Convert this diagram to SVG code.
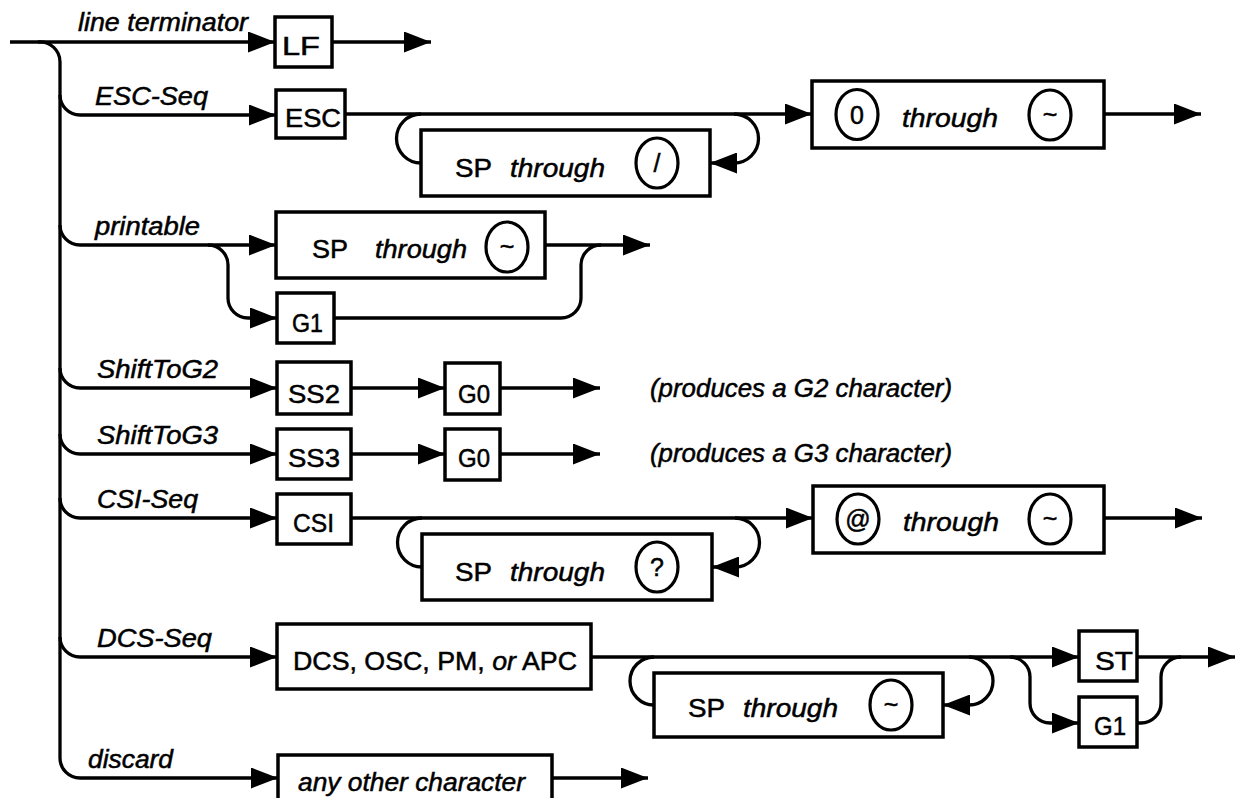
<svg xmlns="http://www.w3.org/2000/svg" width="1236" height="798" viewBox="0 0 1236 798">
<style>
.ln{fill:none;stroke:#000;stroke-width:3.3}
.bx{fill:#fff;stroke:#000;stroke-width:3.5}
.el{fill:none;stroke:#000;stroke-width:3.2}
.lb{font-family:"Liberation Sans",Arial,sans-serif;font-style:italic;font-size:25px;fill:#000;stroke:#000;stroke-width:0.5}
.tx{font-family:"Liberation Sans",Arial,sans-serif;font-size:26px;fill:#000;stroke:#000;stroke-width:0.5}
.it{font-family:"Liberation Sans",Arial,sans-serif;font-style:italic;font-size:26px;fill:#000;stroke:#000;stroke-width:0.5}
.sy{font-family:"Liberation Sans",Arial,sans-serif;font-size:25px;fill:#000;text-anchor:middle;stroke:#000;stroke-width:0.5}
</style>
<defs>
<marker id="ah" viewBox="0 0 27 21" refX="27" refY="10.5" markerWidth="27" markerHeight="21" markerUnits="userSpaceOnUse" orient="auto">
<path d="M0,0 L27,10.5 L0,21 z" fill="#000"/>
</marker>
</defs>
<rect width="1236" height="798" fill="#fff"/>

<g id="connectors">
<path class="ln" d="M10,42 L275,42" marker-end="url(#ah)"/>
<path class="ln" d="M38,42 A20 20 0 0 1 60,62 L60,758 A20 20 0 0 0 80,778 L278,778" marker-end="url(#ah)"/>
<path class="ln" d="M60,95 A20 20 0 0 0 80,115 L276,115" marker-end="url(#ah)"/>
<path class="ln" d="M60,225 A20 20 0 0 0 80,245 L276,245" marker-end="url(#ah)"/>
<path class="ln" d="M60,368 A20 20 0 0 0 80,388 L277,388" marker-end="url(#ah)"/>
<path class="ln" d="M60,434 A20 20 0 0 0 80,454 L277,454" marker-end="url(#ah)"/>
<path class="ln" d="M60,498 A20 20 0 0 0 80,518 L277,518" marker-end="url(#ah)"/>
<path class="ln" d="M60,637 A20 20 0 0 0 80,657 L277,657" marker-end="url(#ah)"/>
<path class="ln" d="M332,42 L431,42" marker-end="url(#ah)"/>
<path class="ln" d="M345,114 L812,114" marker-end="url(#ah)"/>
<path class="ln" d="M421,114 A24.5 24.5 0 0 0 421,163"/>
<path class="ln" d="M734,114 A24.5 24.5 0 0 1 734,163 L710,163" marker-end="url(#ah)"/>
<path class="ln" d="M1104,114 L1201,114" marker-end="url(#ah)"/>
<path class="ln" d="M208,245 A20 20 0 0 1 228,265 L228,298 A20 20 0 0 0 248,318 L277,318" marker-end="url(#ah)"/>
<path class="ln" d="M545,245 L650,245" marker-end="url(#ah)"/>
<path class="ln" d="M334,318 L561,318 A20 20 0 0 0 581,298 L581,265 A20 20 0 0 1 601,245"/>
<path class="ln" d="M351,388 L445,388" marker-end="url(#ah)"/>
<path class="ln" d="M500,388 L600,388" marker-end="url(#ah)"/>
<path class="ln" d="M351,454 L445,454" marker-end="url(#ah)"/>
<path class="ln" d="M500,454 L600,454" marker-end="url(#ah)"/>
<path class="ln" d="M351,518 L813,518" marker-end="url(#ah)"/>
<path class="ln" d="M422,518 A24.5 24.5 0 0 0 422,567"/>
<path class="ln" d="M735,518 A24.5 24.5 0 0 1 735,567 L712,567" marker-end="url(#ah)"/>
<path class="ln" d="M1104,518 L1202,518" marker-end="url(#ah)"/>
<path class="ln" d="M591,657 L1079,657" marker-end="url(#ah)"/>
<path class="ln" d="M654,657 A24 24 0 0 0 654,705"/>
<path class="ln" d="M969,657 A24 24 0 0 1 969,705 L943,705" marker-end="url(#ah)"/>
<path class="ln" d="M1010,657 A20 20 0 0 1 1030,677 L1030,703 A20 20 0 0 0 1050,723 L1079,723" marker-end="url(#ah)"/>
<path class="ln" d="M1137,723 L1141,723 A20 20 0 0 0 1161,703 L1161,677 A20 20 0 0 1 1181,657"/>
<path class="ln" d="M1137,657 L1235,657" marker-end="url(#ah)"/>
<path class="ln" d="M552,778 L648,778" marker-end="url(#ah)"/>
</g>

<g id="labels">
<text class="lb" x="78" y="31" textLength="170" lengthAdjust="spacingAndGlyphs">line terminator</text>
<text class="lb" x="95" y="105" textLength="113" lengthAdjust="spacingAndGlyphs">ESC-Seq</text>
<text class="lb" x="95" y="235" textLength="105" lengthAdjust="spacingAndGlyphs">printable</text>
<text class="lb" x="97" y="378" textLength="121" lengthAdjust="spacingAndGlyphs">ShiftToG2</text>
<text class="lb" x="97" y="444" textLength="121" lengthAdjust="spacingAndGlyphs">ShiftToG3</text>
<text class="lb" x="97" y="508" textLength="101" lengthAdjust="spacingAndGlyphs">CSI-Seq</text>
<text class="lb" x="97" y="647" textLength="115" lengthAdjust="spacingAndGlyphs">DCS-Seq</text>
<text class="lb" x="88" y="768" textLength="85" lengthAdjust="spacingAndGlyphs">discard</text>
<text class="lb" x="650" y="397" textLength="302" lengthAdjust="spacingAndGlyphs">(produces a G2 character)</text>
<text class="lb" x="650" y="462" textLength="302" lengthAdjust="spacingAndGlyphs">(produces a G3 character)</text>
</g>

<g id="node-LF">
<rect class="bx" x="275" y="17" width="57" height="50"/>
<text class="tx" x="282" y="55" textLength="38" lengthAdjust="spacingAndGlyphs">LF</text>
</g>
<g id="node-ESC">
<rect class="bx" x="276" y="90" width="69" height="48"/>
<text class="tx" x="285" y="127" textLength="56" lengthAdjust="spacingAndGlyphs">ESC</text>
</g>
<g id="node-esc-loop">
<rect class="bx" x="421" y="130" width="289" height="66"/>
<text class="tx" x="455" y="177" textLength="37" lengthAdjust="spacingAndGlyphs">SP</text>
<text class="it" x="510" y="177" textLength="95" lengthAdjust="spacingAndGlyphs">through</text>
<ellipse class="el" cx="657" cy="163" rx="21" ry="25"/>
<text class="sy" x="657" y="172">/</text>
</g>
<g id="node-esc-final">
<rect class="bx" x="812" y="81" width="292" height="67"/>
<ellipse class="el" cx="857" cy="114.5" rx="21" ry="25"/>
<text class="sy" x="857" y="123.5">0</text>
<text class="it" x="902" y="127" textLength="96" lengthAdjust="spacingAndGlyphs">through</text>
<ellipse class="el" cx="1050" cy="115" rx="21" ry="25"/>
<text class="sy" x="1050" y="123">~</text>
</g>
<g id="node-printable">
<rect class="bx" x="276" y="212" width="269" height="66"/>
<text class="tx" x="312" y="258" textLength="36" lengthAdjust="spacingAndGlyphs">SP</text>
<text class="it" x="375" y="258" textLength="92" lengthAdjust="spacingAndGlyphs">through</text>
<ellipse class="el" cx="507" cy="247" rx="21" ry="25"/>
<text class="sy" x="507" y="255">~</text>
</g>
<g id="node-G1a">
<rect class="bx" x="277" y="293" width="57" height="50"/>
<text class="tx" x="292" y="332" textLength="31" lengthAdjust="spacingAndGlyphs">G1</text>
</g>
<g id="node-SS2">
<rect class="bx" x="277" y="362" width="74" height="52"/>
<text class="tx" x="288" y="403" textLength="52" lengthAdjust="spacingAndGlyphs">SS2</text>
</g>
<g id="node-G0a">
<rect class="bx" x="445" y="363" width="55" height="51"/>
<text class="tx" x="458" y="403" textLength="32" lengthAdjust="spacingAndGlyphs">G0</text>
</g>
<g id="node-SS3">
<rect class="bx" x="277" y="429" width="74" height="50"/>
<text class="tx" x="288" y="467" textLength="52" lengthAdjust="spacingAndGlyphs">SS3</text>
</g>
<g id="node-G0b">
<rect class="bx" x="445" y="429" width="55" height="51"/>
<text class="tx" x="458" y="467" textLength="32" lengthAdjust="spacingAndGlyphs">G0</text>
</g>
<g id="node-CSI">
<rect class="bx" x="277" y="494" width="74" height="50"/>
<text class="tx" x="293" y="532" textLength="41" lengthAdjust="spacingAndGlyphs">CSI</text>
</g>
<g id="node-csi-loop">
<rect class="bx" x="422" y="534" width="290" height="66"/>
<text class="tx" x="455" y="581" textLength="37" lengthAdjust="spacingAndGlyphs">SP</text>
<text class="it" x="510" y="581" textLength="95" lengthAdjust="spacingAndGlyphs">through</text>
<ellipse class="el" cx="657" cy="567" rx="21" ry="25"/>
<text class="sy" x="657" y="576">?</text>
</g>
<g id="node-csi-final">
<rect class="bx" x="813" y="486" width="291" height="67"/>
<ellipse class="el" cx="858" cy="519" rx="21" ry="25"/>
<text class="sy" x="858" y="528">@</text>
<text class="it" x="903" y="531" textLength="96" lengthAdjust="spacingAndGlyphs">through</text>
<ellipse class="el" cx="1050" cy="519" rx="21" ry="25"/>
<text class="sy" x="1050" y="527">~</text>
</g>
<g id="node-DCS">
<rect class="bx" x="277" y="624" width="314" height="65"/>
<text class="tx" x="293" y="670" textLength="284" lengthAdjust="spacingAndGlyphs">DCS, OSC, PM, <tspan font-style="italic">or</tspan> APC</text>
</g>
<g id="node-dcs-loop">
<rect class="bx" x="654" y="673" width="289" height="64"/>
<text class="tx" x="688" y="717" textLength="37" lengthAdjust="spacingAndGlyphs">SP</text>
<text class="it" x="743" y="717" textLength="95" lengthAdjust="spacingAndGlyphs">through</text>
<ellipse class="el" cx="891" cy="705" rx="21" ry="25"/>
<text class="sy" x="891" y="713">~</text>
</g>
<g id="node-ST">
<rect class="bx" x="1079" y="631" width="58" height="50"/>
<text class="tx" x="1095" y="670" textLength="38" lengthAdjust="spacingAndGlyphs">ST</text>
</g>
<g id="node-G1b">
<rect class="bx" x="1079" y="697" width="58" height="50"/>
<text class="tx" x="1094" y="735" textLength="32" lengthAdjust="spacingAndGlyphs">G1</text>
</g>
<g id="node-other">
<rect class="bx" x="278" y="755" width="274" height="60"/>
<text class="it" x="298" y="791" textLength="227" lengthAdjust="spacingAndGlyphs">any other character</text>
</g>
</svg>
